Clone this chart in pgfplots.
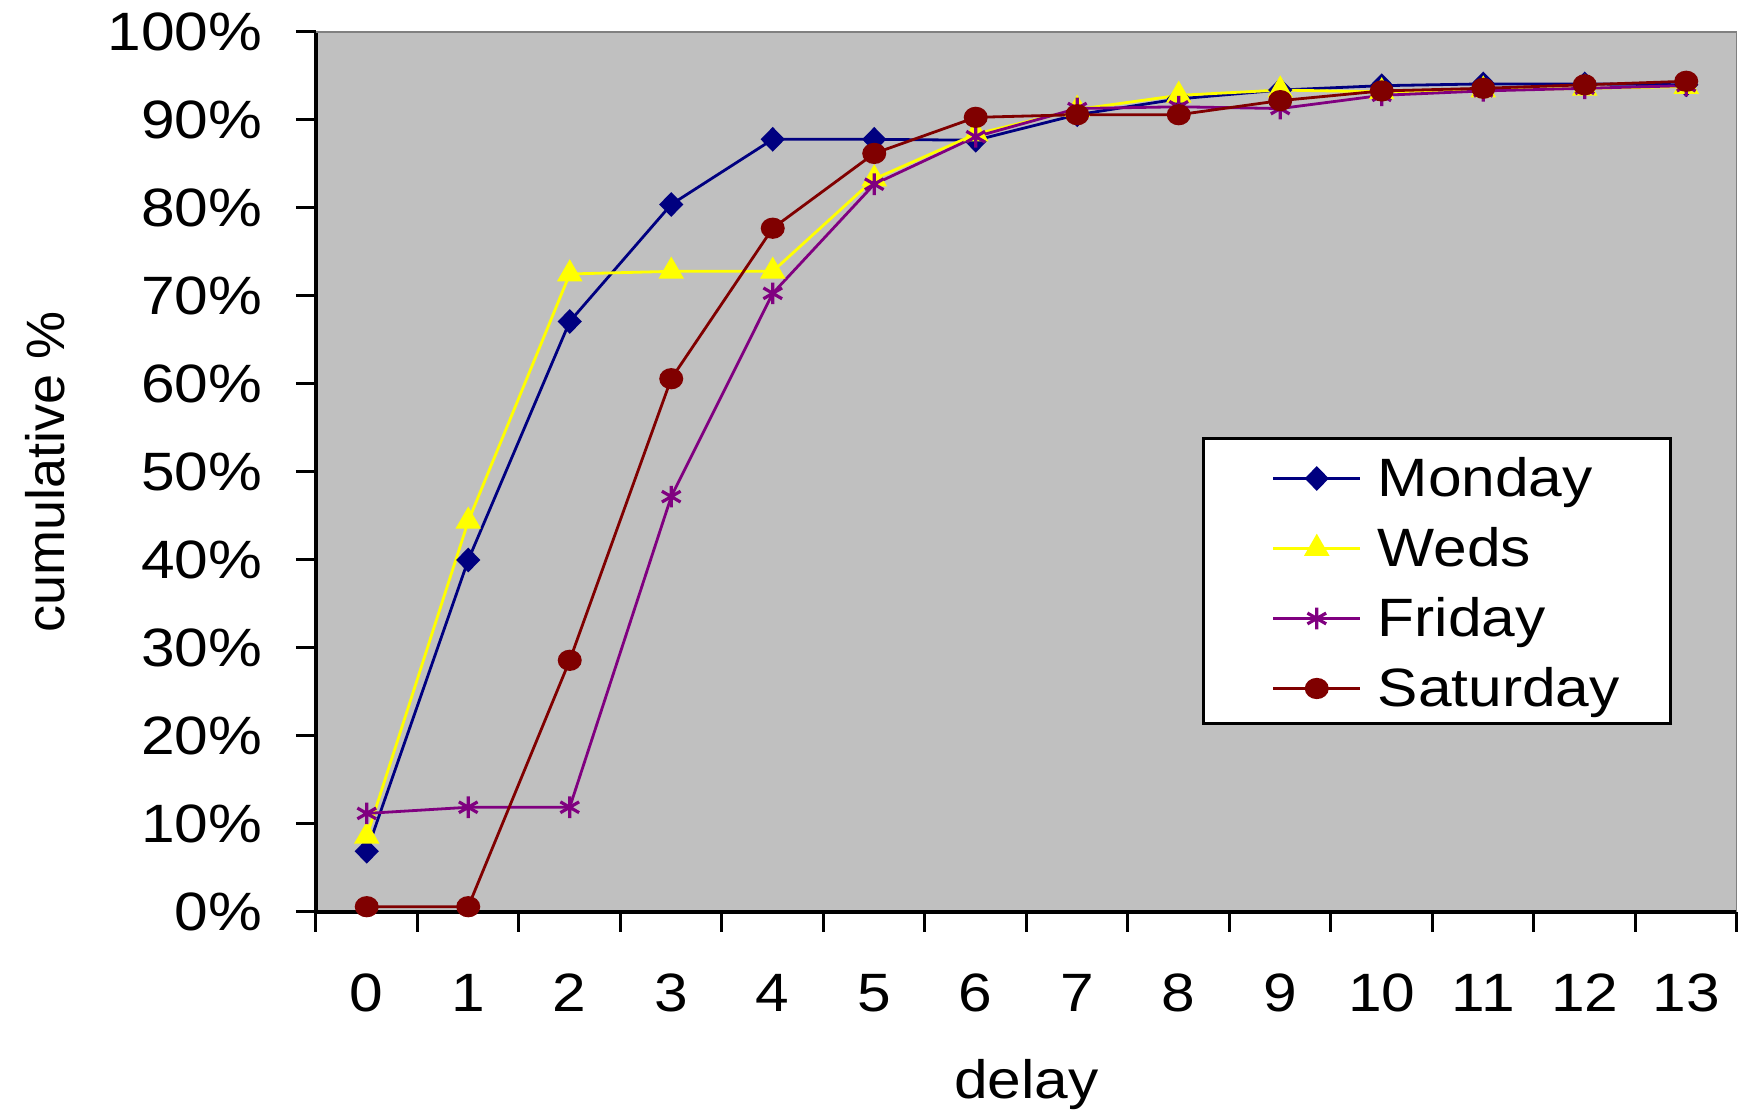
\documentclass[border=0pt]{standalone}
\usepackage{fontspec}
\setmainfont{Liberation Sans}
\usepackage{graphicx}
\usepackage{pgfplots}
\usepackage{pgfplotstable}
\pgfplotsset{compat=1.18}
\definecolor{mon}{RGB}{0,0,128}
\definecolor{wed}{RGB}{255,255,0}
\definecolor{fri}{RGB}{128,0,128}
\definecolor{sat}{RGB}{128,0,0}
\definecolor{plotbg}{RGB}{192,192,192}
\definecolor{frame}{RGB}{128,128,128}
\newcommand{\sx}[1]{\scalebox{1.12}[1]{#1}}
\newcommand{\fs}{\fontsize{13.5}{16}\selectfont}

\pgfplotstableread{
x mon wed fri sat
0  6.9  8.6  11.2  0.6
1  40.0 44.4 11.9  0.6
2  67.1 72.5 11.9  28.6
3  80.4 72.8 47.2  60.6
4  87.8 72.8 70.3  77.7
5  87.8 83.3 82.7  86.2
6  87.7 88.4 88.1  90.3
7  90.6 91.2 91.3  90.6
8  92.4 92.8 91.5  90.6
9  93.4 93.4 91.3  92.2
10 93.9 93.2 92.8  93.3
11 94.1 93.4 93.3  93.6
12 94.1 93.6 93.6  94.0
13 94.0 93.8 93.9  94.4
}\data

\begin{document}
\begin{tikzpicture}
\path[use as bounding box] (-79pt,-49.75pt) rectangle (355.75pt,228pt);
\begin{axis}[
  at={(0pt,0pt)}, anchor=south west,
  scale only axis, width=355.25pt, height=220pt,
  xmin=-0.5, xmax=13.5, ymin=0, ymax=100,
  axis background/.style={fill=plotbg},
  axis x line*=bottom, axis y line*=left,
  axis line style={-, black, line width=0.8pt},
  tick align=outside,
  major tick length=5pt,
  tick style={black, line width=0.75pt},
  ytick={0,10,20,30,40,50,60,70,80,90,100},
  yticklabel={\sx{\pgfmathprintnumber{\tick}\%}},
  /pgf/number format/assume math mode=true,
  xtick={-0.5,0.5,1.5,2.5,3.5,4.5,5.5,6.5,7.5,8.5,9.5,10.5,11.5,12.5,13.5},
  x tick label as interval,
  xticklabels={\sx{0},\sx{1},\sx{2},\sx{3},\sx{4},\sx{5},\sx{6},\sx{7},\sx{8},\sx{9},\sx{10},\sx{11},\sx{12},\sx{13}},
  tick label style={font=\fs},
  yticklabel style={inner xsep=0pt, xshift=-8.25pt},
  xticklabel style={anchor=base, yshift=-20pt},
  xlabel={\sx{delay}}, ylabel={cumulative \%},
  every axis x label/.style={at={(rel axis cs:0.5,-0.2114)}, anchor=base, font=\fs},
  every axis y label/.style={at={(rel axis cs:-0.1907,0.5)}, anchor=center, rotate=90, font=\fs},
  legend style={at={(0.6235,0.540)}, anchor=north west, draw=black, line width=0.75pt,
    fill=white, font=\fs, inner xsep=12.8pt, inner ysep=2.6pt,
    nodes={inner sep=0pt, text height=11.9pt, text depth=1.6pt},
    row sep=4pt,
    /tikz/every odd column/.append style={column sep=4pt}},
  legend cell align=left,
  legend image code/.code={\path (0pt,0pt); \draw[mark repeat=2,mark phase=2] plot coordinates {(4.3pt,-0.7pt) (15.175pt,-0.7pt) (26.05pt,-0.7pt)};},
]
\addplot[color=mon, line width=0.7pt, mark=diamond*, mark size=2.6pt, mark options={xscale=1.3, solid}] table[x=x,y=mon]{\data};
\addlegendentry{\sx{Monday}}
\addplot[color=wed, line width=0.7pt, mark=triangle*, mark size=3pt, mark options={solid}] table[x=x,y=wed]{\data};
\addlegendentry{\sx{Weds}}
\addplot[color=fri, line width=0.7pt, mark=asterisk, mark size=2.7pt, mark options={solid, line width=0.8pt}] table[x=x,y=fri]{\data};
\addlegendentry{\sx{Friday}}
\addplot[color=sat, line width=0.7pt, mark=*, mark size=2.3pt, mark options={xscale=1.15, solid}] table[x=x,y=sat]{\data};
\addlegendentry{\sx{Saturday}}
\draw[frame, line width=0.6pt] (rel axis cs:0,1) -- (rel axis cs:1,1) -- (rel axis cs:1,0);
\end{axis}
\end{tikzpicture}
\end{document}
